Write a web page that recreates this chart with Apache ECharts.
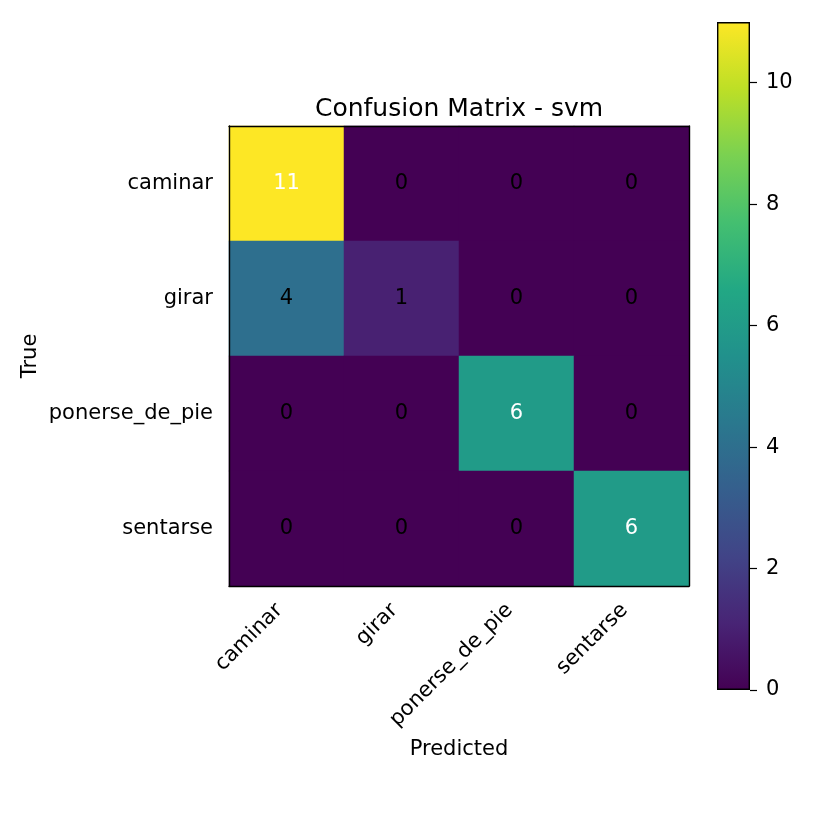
<!DOCTYPE html>
<html>
<head>
    <meta charset="utf8">
    <title>Confusion Matrix - svm</title>
    <script src="https://cdn.jsdelivr.net/npm/echarts@6/dist/echarts.min.js"></script>
</head>
<body style="margin:0">
    <div id="main" style="width: 825px;height:825px;"></div>
    <script type="text/javascript">
    // class names, rows = true, cols = predicted
    var classes = ['caminar', 'girar', 'ponerse_de_pie', 'sentarse'];
    var matrix = [
        [11, 0, 0, 0],
        [4, 1, 0, 0],
        [0, 0, 6, 0],
        [0, 0, 0, 6]
    ];
    var cbMax = 11;
    var cbTicks = [0, 2, 4, 6, 8, 10];
    var viridis = ['#440154', '#482475', '#414487', '#355f8d', '#2a788e', '#21918c',
                   '#22a884', '#44bf70', '#7ad151', '#bddf26', '#fde725'];

    var font = 'DejaVu Sans';
    var thresh = cbMax / 2;
    var cells = [];
    for (var i = 0; i < matrix.length; i++) {
        for (var j = 0; j < matrix[i].length; j++) {
            var v = matrix[i][j];
            cells.push({
                value: [j, i, v],
                label: { color: v > thresh ? '#ffffff' : '#000000' }
            });
        }
    }
    var stops = viridis.map(function (c, k) {
        return { offset: k / (viridis.length - 1), color: c };
    });

    var myChart = echarts.init(document.getElementById('main'));
    var option = {
        backgroundColor: '#ffffff',
        animation: false,
        title: {
            text: 'Confusion Matrix - svm',
            left: 454,
            textAlign: 'center',
            top: 92,
            textStyle: { fontFamily: font, fontSize: 25, fontWeight: 'normal', color: '#000' }
        },
        grid: [
            { left: 229, top: 126, width: 460, height: 460 },
            { left: 717, top: 22, width: 33, height: 668 }
        ],
        xAxis: [
            {
                type: 'category', gridIndex: 0, data: classes, position: 'bottom', z: 10,
                name: 'Predicted', nameLocation: 'middle', nameGap: 153,
                nameTextStyle: { fontFamily: font, fontSize: 21, color: '#000' },
                axisLine: { lineStyle: { color: '#000', width: 1.4 } },
                axisTick: { alignWithLabel: true, length: 7, lineStyle: { color: '#000', width: 1.2 } },
                axisLabel: { rotate: 45, margin: 14, padding: [0, 10, 0, 0], fontFamily: font, fontSize: 21, color: '#000' },
                splitLine: { show: false }
            },
            {
                type: 'category', gridIndex: 0, data: classes, position: 'top', z: 10,
                axisLine: { lineStyle: { color: '#000', width: 1.4 } },
                axisTick: { show: false }, axisLabel: { show: false }
            },
            {
                type: 'category', gridIndex: 1, data: [''],
                axisLine: { show: false }, axisTick: { show: false }, axisLabel: { show: false }
            }
        ],
        yAxis: [
            {
                type: 'category', gridIndex: 0, data: classes, inverse: true, position: 'left', z: 10,
                name: 'True', nameLocation: 'middle', nameGap: 188, nameRotate: 90,
                nameMoveOverlap: false,
                nameTextStyle: { fontFamily: font, fontSize: 21, color: '#000' },
                axisLine: { lineStyle: { color: '#000', width: 1.4 } },
                axisTick: { alignWithLabel: true, length: 7, lineStyle: { color: '#000', width: 1.2 } },
                axisLabel: { margin: 16, fontFamily: font, fontSize: 21, color: '#000' },
                splitLine: { show: false }
            },
            {
                type: 'category', gridIndex: 0, data: classes, inverse: true, position: 'right', z: 10,
                axisLine: { lineStyle: { color: '#000', width: 1.4 } },
                axisTick: { show: false }, axisLabel: { show: false }
            },
            {
                type: 'value', gridIndex: 1, position: 'right', min: 0, max: cbMax, interval: 2,
                axisLine: { show: false },
                axisTick: { show: true, length: 7, customValues: cbTicks, lineStyle: { color: '#000', width: 1.2 } },
                axisLabel: {
                    margin: 16, fontFamily: font, fontSize: 21, color: '#000',
                    customValues: cbTicks
                },
                splitLine: { show: false }
            }
        ],
        visualMap: {
            show: false, type: 'continuous', min: 0, max: cbMax, dimension: 2, seriesIndex: 0,
            inRange: { color: viridis }
        },
        series: [
            {
                type: 'heatmap', xAxisIndex: 0, yAxisIndex: 0, data: cells,
                label: { show: true, fontFamily: font, fontSize: 21 },
                itemStyle: { borderWidth: 0 },
                emphasis: { disabled: true }
            },
            {
                type: 'bar', xAxisIndex: 2, yAxisIndex: 2, data: [cbMax], barWidth: '100%',
                itemStyle: {
                    color: new echarts.graphic.LinearGradient(0, 1, 0, 0, stops),
                    borderColor: '#000', borderWidth: 1.4
                },
                silent: true
            }
        ]
    };
    myChart.setOption(option);
    </script>
</body>
</html>
